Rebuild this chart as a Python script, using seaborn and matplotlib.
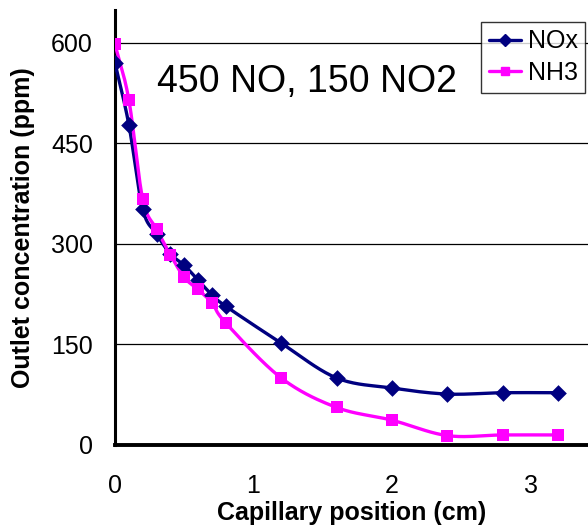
import numpy as np
import matplotlib
matplotlib.use("Agg")
import matplotlib.pyplot as plt
from matplotlib.lines import Line2D
import seaborn as sns

sns.set_style("white")
plt.rcParams["font.family"] = ["Liberation Sans", "DejaVu Sans"]
plt.rcParams["text.color"] = "black"
plt.rcParams["axes.labelcolor"] = "black"

# Measured outlet concentrations along the capillary
position = [0.0, 0.1, 0.2, 0.3, 0.4, 0.5, 0.6, 0.7, 0.8, 1.2, 1.6, 2.0, 2.4, 2.8, 3.2]
nox = [570, 478, 352, 315, 285, 268, 246, 224, 207, 152, 100, 85, 76, 78, 78]
nh3 = [598, 515, 367, 322, 284, 250, 232, 212, 182, 100, 56, 37, 14, 15, 15]

x_ticks = [0, 1, 2, 3]
y_ticks = [0, 150, 300, 450, 600]
annotation = "450 NO, 150 NO2"


def smooth(x, y, n=20):
    """Catmull-Rom curve through the points (spreadsheet-style smoothed line)."""
    x = np.asarray(x, float)
    y = np.asarray(y, float)
    px = np.concatenate([[2 * x[0] - x[1]], x, [2 * x[-1] - x[-2]]])
    py = np.concatenate([[2 * y[0] - y[1]], y, [2 * y[-1] - y[-2]]])
    xs, ys = [], []
    t = np.linspace(0, 1, n, endpoint=False)
    for i in range(1, len(px) - 2):
        for arr, out in ((px, xs), (py, ys)):
            p0, p1, p2, p3 = arr[i - 1], arr[i], arr[i + 1], arr[i + 2]
            out.extend(0.5 * ((2 * p1) + (-p0 + p2) * t
                              + (2 * p0 - 5 * p1 + 4 * p2 - p3) * t ** 2
                              + (-p0 + 3 * p1 - 3 * p2 + p3) * t ** 3))
    xs.append(x[-1])
    ys.append(y[-1])
    return np.array(xs), np.array(ys)


fig = plt.figure(figsize=(5.88, 5.31), dpi=100)
ax = fig.add_axes([115 / 588, (531 - 445) / 531, (588 - 115) / 588, (445 - 10) / 531])

series = [
    ("NOx", nox, "#000080", "D", 8.5),
    ("NH3", nh3, "#FF00FF", "s", 9),
]
handles = []
for name, vals, color, marker, ms in series:
    sx, sy = smooth(position, vals)
    sns.lineplot(x=sx, y=sy, ax=ax, color=color, linewidth=2.4, sort=False,
                 estimator=None, zorder=3)
    sns.scatterplot(x=position, y=vals, ax=ax, color=color, marker=marker,
                    s=ms ** 2, edgecolor=color, linewidth=0, zorder=4)
    handles.append(Line2D([], [], color=color, marker=marker, markersize=ms * 0.7,
                          linewidth=2.4, label=name))

ax.set_xlim(0, 3.415)
ax.set_ylim(0, 649)
ax.set_xticks(x_ticks)
ax.set_yticks(y_ticks)
ax.set_xticklabels([str(v) for v in x_ticks], fontsize=18)
ax.set_yticklabels([str(v) for v in y_ticks], fontsize=18)

for v in y_ticks[1:]:
    ax.axhline(v, color="black", linewidth=0.9, zorder=1)

for side in ("top", "right"):
    ax.spines[side].set_visible(False)
ax.spines["left"].set_linewidth(2.2)
ax.spines["bottom"].set_linewidth(2.8)
ax.spines["left"].set_color("black")
ax.spines["bottom"].set_color("black")
ax.tick_params(axis="x", direction="inout", length=12, width=1, color="#444444",
               labelcolor="black", pad=15)
ax.tick_params(axis="y", direction="out", length=6, width=1, color="#444444",
               labelcolor="black", pad=10)

ax.set_xlabel("Capillary position (cm)", fontsize=18, fontweight="bold", labelpad=2)
ax.set_ylabel("Outlet concentration (ppm)", fontsize=18, fontweight="bold", labelpad=11)

ax.text(0.30, 542, annotation, fontsize=27, va="center", ha="left", zorder=5)

leg = ax.legend(handles=handles, loc="upper right",
                fontsize=18, frameon=True, fancybox=False, handlelength=1.3,
                handletextpad=0.25, borderpad=0.3, labelspacing=0.3, borderaxespad=0)
leg.set_bbox_to_anchor((585 / 588, (531 - 22) / 531), transform=fig.transFigure)
leg.get_frame().set_edgecolor("black")
leg.get_frame().set_linewidth(1.0)

fig.savefig("out.png", dpi=100)
